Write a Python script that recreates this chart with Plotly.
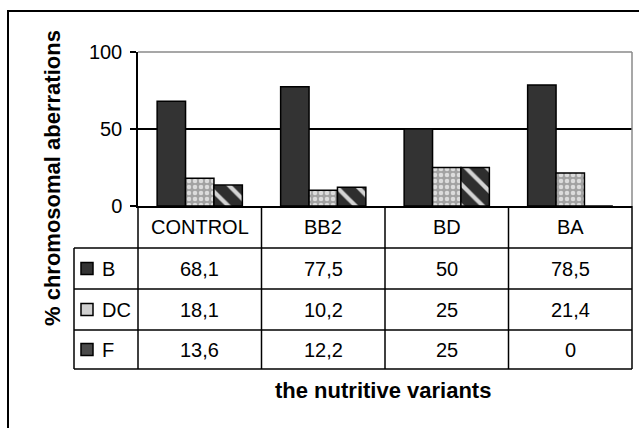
import plotly.graph_objects as go

# Chromosomal aberration frequencies (%) per nutritive variant
variants = ["CONTROL", "BB2", "BD", "BA"]
aberr_B = [68.1, 77.5, 50, 78.5]
aberr_DC = [18.1, 10.2, 25, 21.4]
aberr_F = [13.6, 12.2, 25, 0]
series_names = ["B", "DC", "F"]
y_ticks = [0, 50, 100]

FONT = "Liberation Sans, Arial, sans-serif"

# plot-area box in pixels (figure is 639 x 428)
L, R, T, B = 138, 632, 52, 206
W, H = R - L, B - T


def px(x):
    return (x - L) / W


def py(y):
    return (B - y) / H


fig = go.Figure()

styles = {
    "B": dict(color="#333333", line=dict(color="black", width=1.5)),
    "DC": dict(color="#a8a8a8", line=dict(color="black", width=1.5),
               pattern=dict(shape=".", bgcolor="#a2a2a2", fgcolor="#dcdcdc",
                            size=6, solidity=0.45, fillmode="replace")),
    "F": dict(color="#2e2e2e", line=dict(color="black", width=1.5),
              pattern=dict(shape="\\", bgcolor="#2e2e2e", fgcolor="#d4d4d4",
                           size=15, solidity=0.28, fillmode="replace")),
}
swatch_fill = {"B": "#333333", "DC": "#d0d0d0", "F": "#4a4a4a"}

series_vals = [aberr_B, aberr_DC, aberr_F]
for name, vals in zip(series_names, series_vals):
    fig.add_trace(go.Bar(x=variants, y=vals, name=name, marker=styles[name],
                         showlegend=False))

shapes = []
annotations = []


def label(x, y, text, size=20, xanchor="center", angle=0):
    annotations.append(dict(x=x, y=y, xref="paper", yref="paper", text=text,
                            showarrow=False, xanchor=xanchor, yanchor="middle",
                            textangle=angle,
                            font=dict(family=FONT, size=size, color="black")))


# outer chart frame
shapes.append(dict(type="rect", xref="paper", yref="paper",
                   x0=px(8), x1=px(660), y0=py(11), y1=py(440),
                   line=dict(color="black", width=2)))
# grey plot-area border (top and right)
shapes.append(dict(type="line", xref="paper", yref="paper", x0=0, x1=1, y0=1, y1=1,
                   line=dict(color="#8a8a8a", width=1.5), layer="above"))
shapes.append(dict(type="line", xref="paper", yref="paper", x0=1, x1=1, y0=0, y1=1,
                   line=dict(color="#8a8a8a", width=1.5), layer="above"))

# data table under the plot
row_edges = [206, 248, 289, 330, 369]
leg_left = 74
n = len(variants)
line_style = dict(color="black", width=1.5)
for i in range(n + 1):
    shapes.append(dict(type="line", xref="paper", yref="paper",
                       x0=i / n, x1=i / n, y0=py(row_edges[0]), y1=py(row_edges[-1]),
                       line=line_style))
shapes.append(dict(type="line", xref="paper", yref="paper",
                   x0=px(leg_left), x1=px(leg_left), y0=py(row_edges[1]), y1=py(row_edges[-1]),
                   line=line_style))
for yy in row_edges[1:]:
    shapes.append(dict(type="line", xref="paper", yref="paper",
                       x0=px(leg_left), x1=1, y0=py(yy), y1=py(yy), line=line_style))

# header row: category names
hdr_y = (row_edges[0] + row_edges[1]) / 2
for i, cat in enumerate(variants):
    label((i + 0.5) / n, py(hdr_y), cat)

# series rows: legend key, name and values
for r, (name, vals) in enumerate(zip(series_names, series_vals)):
    yc = (row_edges[r + 1] + row_edges[r + 2]) / 2
    shapes.append(dict(type="rect", xref="paper", yref="paper",
                       x0=px(81), x1=px(93), y0=py(yc - 6), y1=py(yc + 6),
                       fillcolor=swatch_fill[name], line=dict(color="black", width=1.5)))
    label(px(100), py(yc), name, xanchor="left")
    for i, v in enumerate(vals):
        label((i + 0.5) / n, py(yc), f"{v:g}".replace(".", ","))

# axis titles
label(px(383), py(390), "<b>the nutritive variants</b>", size=22)
label(px(52), py(178), "<b>% chromosomal aberrations</b>", size=22, angle=-90)

fig.update_layout(
    width=639, height=428,
    margin=dict(l=L, r=639 - R, t=T, b=428 - B, pad=0),
    paper_bgcolor="white", plot_bgcolor="white",
    barmode="group", bargap=0.31, bargroupgap=0,
    font=dict(family=FONT, size=20, color="black"),
    shapes=shapes, annotations=annotations,
    xaxis=dict(showticklabels=False, ticks="", showgrid=False, zeroline=False,
               showline=True, linecolor="black", linewidth=1.5),
    yaxis=dict(range=[0, 100], tickvals=y_ticks, ticks="outside", ticklen=6,
               tickwidth=1.5, tickcolor="black", showline=True, linecolor="black",
               linewidth=1.5, showgrid=True, gridcolor="black", gridwidth=1.5,
               zeroline=False, tickfont=dict(family=FONT, size=20, color="black"),
               ticklabelstandoff=4),
)

fig.write_html("out.html")
